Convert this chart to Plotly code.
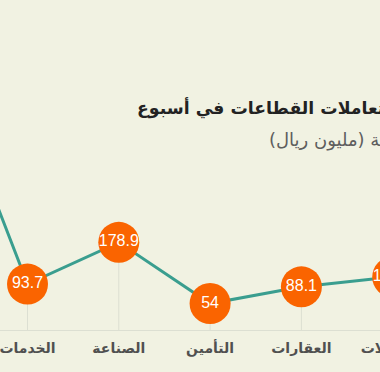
import plotly.graph_objects as go

# ---- data ----
categories = ["البنوك", "الخدمات", "الصناعة", "التأمين", "العقارات", "الاتصالات"]
values = [576, 93.7, 178.9, 54, 88.1, 108.2]
value_labels = ["", "93.7", "178.9", "54", "88.1", "108.2"]
title_text = "حجم تعاملات القطاعات في أسبوع"
subtitle_text = "القيمة (مليون ريال)"

# ---- layout constants ----
W, H = 470, 372
BG = "#f1f2e2"
LINE = "#3a9e8f"
ORANGE = "#fa6400"
GRID = "#dcdfd2"

step_px = 91.3
first_px = 27.5
r0 = 1 - first_px / step_px
r1 = r0 + W / step_px

fig = go.Figure()

# drop lines from each point to the baseline
fig.add_trace(go.Scatter(
    x=categories, y=values, mode="markers",
    marker=dict(size=1, color="rgba(0,0,0,0)"),
    error_y=dict(type="data", symmetric=False, array=[0] * len(values),
                 arrayminus=values, color=GRID, thickness=1, width=0),
    hoverinfo="skip", showlegend=False,
))

fig.add_trace(go.Scatter(
    x=categories, y=values, mode="lines+markers+text",
    line=dict(color=LINE, width=3),
    marker=dict(size=41, color=ORANGE, line=dict(width=0)),
    text=value_labels, textposition="middle center",
    textfont=dict(family="Liberation Sans, Arial, sans-serif", size=16, color="white"),
    showlegend=False,
))

fig.update_layout(
    width=W, height=H,
    margin=dict(l=0, r=0, t=0, b=42),
    paper_bgcolor=BG, plot_bgcolor=BG,
    xaxis=dict(
        type="category", categoryorder="array", categoryarray=categories,
        range=[r0, r1], showgrid=False, zeroline=False,
        showline=True, linecolor=GRID, linewidth=1,
        ticks="outside", ticklen=5, tickcolor="rgba(0,0,0,0)",
        tickfont=dict(family="DejaVu Sans", size=14, color="#505050", weight="bold"),
    ),
    yaxis=dict(range=[0, 330 / 0.49], showgrid=False, zeroline=False,
               showticklabels=False, showline=False),
    annotations=[
        dict(text=title_text, xref="paper", yref="paper",
             x=135 / W, y=(330 - 108) / 330, xanchor="left", yanchor="middle",
             showarrow=False,
             font=dict(family="DejaVu Sans", size=17.3, color="#222222", weight="bold")),
        dict(text=subtitle_text, xref="paper", yref="paper",
             x=267 / W, y=(330 - 140) / 330, xanchor="left", yanchor="middle",
             showarrow=False,
             font=dict(family="DejaVu Sans", size=18, color="#5e5e5e")),
    ],
)

fig.write_html("out.html")
